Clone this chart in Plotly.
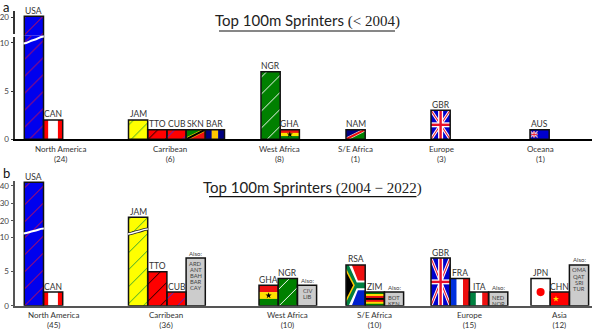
import base64
import math
import plotly.graph_objects as go

W, H = 598, 329

# panel a, before 2004
a_countries = ['USA', 'CAN', 'JAM', 'TTO', 'CUB', 'SKN', 'BAR', 'NGR', 'GHA', 'NAM', 'GBR', 'AUS']
a_values = [20.6, 2, 2, 1, 1, 1, 1, 7, 1, 1, 3, 1]
a_regions = ['North America<br>(24)', 'Carribean<br>(6)', 'West Africa<br>(8)',
             'S/E Africa<br>(1)', 'Europe<br>(3)', 'Oceana<br>(1)']
a_region_sizes = [2, 5, 2, 1, 1, 1]

# panel b, 2004 to 2022
b_countries = ['USA', 'CAN', 'JAM', 'TTO', 'CUB', 'Also', 'GHA', 'NGR', 'Also', 'RSA', 'ZIM', 'Also',
               'GBR', 'FRA', 'ITA', 'Also', 'JPN', 'CHN', 'Also']
b_values = [42, 2, 22, 5, 2, 7, 3, 4, 3, 6, 2, 2, 7, 4, 2, 2, 4, 2, 6]
b_regions = ['North America<br>(45)', 'Carribean<br>(36)', 'West Africa<br>(10)',
             'S/E Africa<br>(10)', 'Europe<br>(15)', 'Asia<br>(12)']
b_region_sizes = [2, 4, 3, 3, 4, 3]
b_also = [['ARD', 'ANT', 'BAH', 'BAR', 'CAY'], ['CIV', 'LIB'], ['BOT', 'KEN'], ['NED', 'NOR'],
          ['OMA', 'QAT', 'SRI', 'TUR']]

# layout in pixels
SLOT = 19.2
X0, X1 = 14.5, 592
a_left_px = [24.3, 128.5, 261, 346, 431, 530]
b_left_px = [24.3, 128.5, 259, 346, 431, 531]
a_label_px = [60, 170, 279, 355, 441, 540]
b_label_px = [53, 166, 287, 374, 469, 559]

# bars with a plain colour and a hatch, the others get a flag picture
HATCH = {'USA': ('#0000ee', '#e0103a'), 'JAM': ('#ffff00', '#30a030'), 'TTO': ('#ff0000', '#000000'),
         'CUB': ('#ff0000', '#3030ee'), 'NGR': ('#008000', '#ffffff')}
CLEAR = 'rgba(0,0,0,0)'

def star(cx, cy, r, fill):
    pts = []
    for i in range(10):
        rad = r if i % 2 == 0 else r * 0.4
        ang = -math.pi / 2 + i * math.pi / 5
        pts.append(f'{cx + rad * math.cos(ang):.2f},{cy + rad * math.sin(ang):.2f}')
    return f'<polygon points="{" ".join(pts)}" fill="{fill}"/>'

def rect(x, y, w, h, fill):
    return f'<rect x="{x}" y="{y}" width="{w}" height="{h}" fill="{fill}"/>'

def line(x1, y1, x2, y2, col, sw):
    return f'<line x1="{x1}" y1="{y1}" x2="{x2}" y2="{y2}" stroke="{col}" stroke-width="{sw}"/>'

def vstripes(cols, w, h):
    return ''.join(rect(i * w / len(cols), 0, w / len(cols) + 0.2, h, c) for i, c in enumerate(cols))

def hstripes(cols, w, h):
    return ''.join(rect(0, i * h / len(cols), w, h / len(cols) + 0.2, c) for i, c in enumerate(cols))

def jack(x, y, w, h, s=1.0):
    out = rect(x, y, w, h, '#0000cc')
    out += line(x, y, x + w, y + h, '#fff', 3 * s) + line(x + w, y, x, y + h, '#fff', 3 * s)
    out += line(x, y, x + w, y + h, '#e8102a', 1 * s) + line(x + w, y, x, y + h, '#e8102a', 1 * s)
    out += rect(x + w / 2 - 2.5 * s, y, 5 * s, h, '#fff') + rect(x, y + h / 2 - 2.5 * s, w, 5 * s, '#fff')
    out += rect(x + w / 2 - 1.2 * s, y, 2.4 * s, h, '#e8102a') + rect(x, y + h / 2 - 1.2 * s, w, 2.4 * s, '#e8102a')
    return out

def flag_body(code, w, h):
    if code == 'CAN':
        return vstripes(['#ff0000', '#ffffff', '#ffffff', '#ff0000'], w, h)
    if code == 'SKN':
        return (f'<polygon points="0,0 {w},0 0,{h}" fill="#008000"/><polygon points="{w},0 {w},{h} 0,{h}" fill="#ee1010"/>'
                + line(0, h, w, 0, '#ffdd00', 3.2) + line(0, h, w, 0, '#000', 2.2))
    if code == 'BAR':
        return vstripes(['#000080', '#ffc800', '#000080'], w, h)
    if code == 'GHA':
        return hstripes(['#ee1010', '#ffe000', '#008000'], w, h) + star(w / 2, h / 2, min(h / 3.2, 3.2), '#000')
    if code == 'NAM':
        return (f'<polygon points="0,0 {w},0 0,{h}" fill="#000080"/><polygon points="{w},0 {w},{h} 0,{h}" fill="#008000"/>'
                + line(0, h, w, 0, '#fff', 3.2) + line(0, h, w, 0, '#ee1010', 2.2))
    if code == 'GBR':
        return jack(0, 0, w, h)
    if code == 'AUS':
        return rect(0, 0, w, h, '#0000cc') + jack(0.5, h * 0.18, 7, h * 0.62, 0.4)
    if code == 'RSA':
        t = h * 0.5
        return (rect(0, 0, w, t, '#ee1010') + rect(0, t, w, t, '#0020cc')
                + f'<polygon points="0,0 {w*0.3},0 {w*0.62},{h*0.38} {w},{h*0.38} {w},{h*0.62} {w*0.62},{h*0.62} {w*0.3},{h} 0,{h}" fill="#fff"/>'
                + f'<polygon points="0,0 {w*0.14},0 {w*0.56},{h*0.43} {w},{h*0.43} {w},{h*0.57} {w*0.56},{h*0.57} {w*0.14},{h} 0,{h}" fill="#008040"/>'
                + f'<polygon points="0,{h*0.08} {w*0.46},{h*0.5} 0,{h*0.92}" fill="#ffc800"/>'
                + f'<polygon points="0,{h*0.16} {w*0.37},{h*0.5} 0,{h*0.84}" fill="#000"/>')
    if code == 'ZIM':
        return hstripes(['#008000', '#ffd800', '#ee1010', '#000000', '#ee1010', '#ffd800', '#008000'], w, h)
    if code == 'FRA':
        return vstripes(['#0030dd', '#ffffff', '#ee1010'], w, h)
    if code == 'ITA':
        return vstripes(['#008040', '#ffffff', '#ee1010'], w, h)
    if code == 'JPN':
        return rect(0, 0, w, h, '#fff') + f'<circle cx="{w/2}" cy="{h/2}" r="4" fill="#ff0000"/>'
    if code == 'CHN':
        return rect(0, 0, w, h, '#ff0000') + star(w * 0.3, h * 0.5, 3.2, '#ffdd00')
    return None

def flag_uri(code, w, h):
    body = flag_body(code, w, h)
    svg = (f'<svg xmlns="http://www.w3.org/2000/svg" width="{w}" height="{h}" viewBox="0 0 {w} {h}" '
           f'preserveAspectRatio="none">{body}</svg>')
    return 'data:image/svg+xml;base64,' + base64.b64encode(svg.encode()).decode()

def to_slot(px):
    return (px - X0) / SLOT

def py(px):
    return 1 - px / H

def slot_positions(left_px, sizes):
    xs = []
    for left, size in zip(left_px, sizes):
        xs += [to_slot(left) + i + 0.5 for i in range(size)]
    return xs

FONT = 'Lato, Open Sans, sans-serif'
SERIF = 'Liberation Serif, DejaVu Serif, serif'
fig = go.Figure()
images, annotations, shapes = [], [], []

def bars(xs, values, colors, hatches, xa, ya):
    # solid fill first, the hatch goes over it on its own trace
    fig.add_trace(go.Bar(x=xs, y=values, width=1, xaxis=xa, yaxis=ya, showlegend=False,
                         marker=dict(color=colors, line=dict(color=CLEAR, width=0))))
    fig.add_trace(go.Bar(x=xs, y=values, width=1, xaxis=xa, yaxis=ya, showlegend=False,
                         marker=dict(color=CLEAR, line=dict(color='#111', width=1.5),
                                     pattern=dict(shape=['/' if h else '' for h in hatches],
                                                  fgcolor=[h or '#000' for h in hatches],
                                                  size=12, solidity=0.08, fillmode='replace'))))

def add_panel(axes, countries, values, xs, split, px_per_unit, also=None):
    xa, xa_top, lower, upper = axes
    also_iter = iter(also or [])
    colors, hatches = [], []
    for name, val, x in zip(countries, values, xs):
        if name in HATCH:
            colors.append(HATCH[name][0])
            hatches.append(HATCH[name][1])
        elif name == 'Also':
            colors.append('#cccccc')
            hatches.append(None)
        else:
            colors.append(CLEAR)
            hatches.append(None)
            images.append(dict(source=flag_uri(name, 19, max(round(val * px_per_unit), 1)),
                               xref=xa, yref=lower, x=x - 0.5, y=val, sizex=1, sizey=val,
                               xanchor='left', yanchor='top', sizing='stretch', layer='below'))
        ref = upper if val > split else lower
        if name == 'Also':
            annotations.append(dict(x=x, y=val, xref=xa, yref=ref, text='Also:', showarrow=False, yanchor='bottom',
                                    yshift=-0.5, font=dict(size=6, color='#444', family=FONT)))
            for i, code in enumerate(next(also_iter)):
                annotations.append(dict(x=x, y=val, xref=xa, yref=ref, text=code, showarrow=False, yanchor='top',
                                        yshift=0.5 - i * 6.2, font=dict(size=5.8, color='#444', family=FONT)))
        else:
            annotations.append(dict(x=x, y=val, xref=xa, yref=ref, text=name, showarrow=False, yanchor='bottom',
                                    yshift=-1.5, font=dict(size=8.5, color='#333', family=FONT)))
    bars(xs, values, colors, hatches, xa, lower)
    tall = [i for i, v in enumerate(values) if v > split]
    bars([xs[i] for i in tall], [values[i] for i in tall], [colors[i] for i in tall],
         [hatches[i] for i in tall], xa_top, upper)

a_xs = slot_positions(a_left_px, a_region_sizes)
b_xs = slot_positions(b_left_px, b_region_sizes)
add_panel(('x', 'x2', 'y', 'y2'), a_countries, a_values, a_xs, 10.5, 9.66)
add_panel(('x3', 'x4', 'y3', 'y4'), b_countries, b_values, b_xs, 10.9, 6.8, b_also)

# region labels under the bars
for labels, pxs, top in [(a_regions, a_label_px, 141.5), (b_regions, b_label_px, 307.5)]:
    for text, px in zip(labels, pxs):
        annotations.append(dict(x=px / W, y=py(top), xref='paper', yref='paper', text=text, showarrow=False,
                                xanchor='center', yanchor='top', font=dict(size=8, color='#333', family=FONT)))

# titles and panel letters
for text, cx, cy in [(f'Top 100m Sprinters <span style="font-family:{SERIF}">(&lt; 2004)</span>', 307, 21),
                     (f'Top 100m Sprinters <span style="font-family:{SERIF}">(2004 − 2022)</span>', 312.5, 187)]:
    annotations.append(dict(x=cx / W, y=py(cy), xref='paper', yref='paper', text=text, showarrow=False,
                            xanchor='center', yanchor='middle', font=dict(size=15, color='#222', family=FONT)))
for text, cy in [('a', 7), ('b', 173)]:
    annotations.append(dict(x=6 / W, y=py(cy), xref='paper', yref='paper', text=text, showarrow=False,
                            xanchor='center', yanchor='middle', font=dict(size=13, color='#111', family=FONT)))
for x0, x1, y, in [(219, 395, 31), (209, 416.5, 196.7)]:
    shapes.append(dict(type='line', xref='paper', yref='paper', x0=x0 / W, x1=x1 / W, y0=py(y), y1=py(y),
                       line=dict(color='#111', width=1.2)))

# white break in the left spine of panel a
shapes.append(dict(type='rect', xref='paper', yref='paper', x0=12 / W, x1=18 / W, y0=py(37), y1=py(34),
                   fillcolor='#fff', line=dict(width=0)))

def squiggle(left, right, y_left, y_right, col, width):
    mid = (left + right) / 2
    path = (f'M {left / W},{py(y_left)} C {(left + mid) / 2 / W},{py(y_left - 0.5)} '
            f'{(left + mid) / 2 / W},{py((y_left + y_right) / 2 + 1)} {mid / W},{py((y_left + y_right) / 2)} '
            f'S {(mid + right) / 2 / W},{py(y_right + 0.3)} {right / W},{py(y_right)}')
    shapes.append(dict(type='path', xref='paper', yref='paper', path=path, line=dict(color=col, width=width)))

squiggle(23.5, 43.8, 43.5, 36.5, '#fff', 2)
squiggle(23.5, 43.8, 233.5, 228.5, '#fff', 2)
squiggle(128, 147.8, 234, 229, '#222', 3.2)
squiggle(128, 147.8, 234, 229, '#fff', 1.4)

x_dom = [X0 / W, X1 / W]
x_range = [0, (X1 - X0) / SLOT]

def x_axis(anchor, col, visible=True):
    return dict(domain=x_dom, range=x_range, anchor=anchor, showticklabels=False, ticks='', showgrid=False,
                zeroline=False, showline=visible, linecolor=col, linewidth=2)

def y_axis(bottom, top, rng, ticks, anchor, col):
    return dict(domain=[py(bottom), py(top)], range=rng, tickvals=ticks, anchor=anchor, showgrid=False, zeroline=False,
                showline=True, linecolor=col, linewidth=2, ticks='outside', ticklen=2, tickcolor=col, tickwidth=1,
                tickfont=dict(size=8, color='#444', family=FONT))

fig.update_layout(
    width=W, height=H, margin=dict(l=0, r=0, t=0, b=0, pad=0, autoexpand=False), paper_bgcolor='white',
    plot_bgcolor='rgba(0,0,0,0)', barmode='overlay', images=images, annotations=annotations, shapes=shapes,
    showlegend=False,
    xaxis=x_axis('y', '#000'), xaxis2=x_axis('y2', '#000', False),
    xaxis3=x_axis('y3', '#555'), xaxis4=x_axis('y4', '#555', False),
    yaxis=y_axis(139.3, 35.5, [0, 10.75], [0, 5, 10], 'x', '#333'),
    yaxis2=y_axis(35.5, 11, [9.9, 23.5], [20], 'x2', '#333'),
    yaxis3=y_axis(305.7, 231, [0, 10.98], [0, 5, 10], 'x3', '#555'),
    yaxis4=y_axis(231, 181, [14.1, 42.7], [20, 30, 40], 'x4', '#555'),
)

# the page's default body margin would push the figure off the window
fig.write_html("out.html", config=dict(displayModeBar=False),
               post_script="document.body.style.margin='0';document.body.style.overflow='hidden';")
